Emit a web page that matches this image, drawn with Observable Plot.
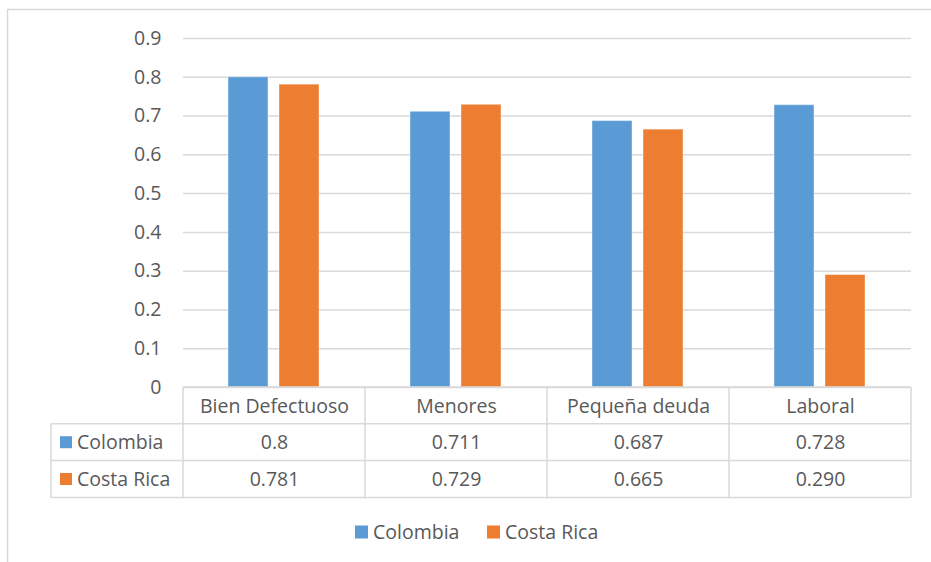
<!DOCTYPE html>
<html>
<head>
<meta charset="utf-8">
<script src="https://cdn.jsdelivr.net/npm/d3@7"></script>
<script src="https://cdn.jsdelivr.net/npm/@observablehq/plot@0.6"></script>
<style>
  html, body { margin: 0; padding: 0; background: #fff; }
  #chart { width: 931px; height: 562px; }
</style>
</head>
<body>
<div id="chart"></div>
<script>
const categories = ["Bien Defectuoso", "Menores", "Pequeña deuda", "Laboral"];
const series = ["Colombia", "Costa Rica"];
const colombia = [0.8, 0.711, 0.687, 0.728];
const costaRica = [0.781, 0.729, 0.665, 0.290];
const colombiaLabels = ["0.8", "0.711", "0.687", "0.728"];
const costaRicaLabels = ["0.781", "0.729", "0.665", "0.290"];
const yTicks = [0, 0.1, 0.2, 0.3, 0.4, 0.5, 0.6, 0.7, 0.8, 0.9];
const colors = ["#5B9BD5", "#ED7D31"];

const data = categories.flatMap((c, i) => [
  {cat: c, series: series[0], value: colombia[i]},
  {cat: c, series: series[1], value: costaRica[i]}
]);
const tableRows = categories.map((c, i) => ({cat: c, a: colombiaLabels[i], b: costaRicaLabels[i]}));

const FONT = "'Open Sans', sans-serif";
const TXT = "#595959";
const GRID = "#d9d9d9";
const FS = 19.5;

const plot = Plot.plot({
  width: 931,
  height: 562,
  marginLeft: 182,
  marginRight: 19,
  marginTop: 38,
  marginBottom: 175,
  style: {fontFamily: FONT, fontSize: FS + "px", color: TXT, background: "#fff"},
  fx: {domain: categories, padding: 0, axis: null},
  x: {domain: series, paddingInner: 0.21, paddingOuter: 0.86, axis: null},
  y: {domain: [0, 0.9]},
  color: {domain: series, range: colors},
  marks: [
    Plot.gridY(yTicks, {stroke: GRID, strokeOpacity: 1, strokeWidth: 1.5}),
    Plot.axisY(yTicks, {tickSize: 0, tickPadding: 22, label: null, fontSize: FS,
      tickFormat: d => d === 0 ? "0" : d.toFixed(1)}),
    Plot.barY(data, {fx: "cat", x: "series", y: "value", fill: "series", stroke: "#fff", strokeOpacity: 0.4, strokeWidth: 1}),
    Plot.text(tableRows, {fx: "cat", frameAnchor: "bottom", lineAnchor: "middle", dy: 19, text: "cat", fill: TXT, fontSize: FS}),
    Plot.text(tableRows, {fx: "cat", frameAnchor: "bottom", lineAnchor: "middle", dy: 55, text: "a", fill: TXT, fontSize: FS}),
    Plot.text(tableRows, {fx: "cat", frameAnchor: "bottom", lineAnchor: "middle", dy: 92, text: "b", fill: TXT, fontSize: FS})
  ]
});

document.getElementById("chart").appendChild(plot);

// Table borders, row labels, legend and outer frame
const svg = d3.select(plot);
const fx = plot.scale("fx");
const y = plot.scale("y");
const y0 = y.apply(0);
const bw = fx.bandwidth;
const xs = categories.map(c => fx.apply(c));
const xEnd = xs[xs.length - 1] + bw;
const rowH = 36.8;
const tableLeft = 51;
const g = svg.append("g").attr("stroke", GRID).attr("stroke-width", 1.5).attr("fill", "none");
g.append("line").attr("x1", xs[0]).attr("x2", xEnd).attr("y1", y0).attr("y2", y0);
for (let r = 1; r <= 3; r++) {
  g.append("line").attr("x1", tableLeft).attr("x2", xEnd).attr("y1", y0 + r * rowH).attr("y2", y0 + r * rowH);
}
g.append("line").attr("x1", tableLeft).attr("x2", tableLeft).attr("y1", y0 + rowH).attr("y2", y0 + 3 * rowH);
[...xs, xEnd].forEach(x => {
  g.append("line").attr("x1", x).attr("x2", x).attr("y1", y0).attr("y2", y0 + 3 * rowH);
});

// Row labels
series.forEach((s, i) => {
  const cy = y0 + rowH * (i + 1.5);
  svg.append("rect").attr("x", 60).attr("y", cy - 6).attr("width", 12).attr("height", 12).attr("fill", colors[i]);
  svg.append("text").attr("x", 77).attr("y", cy).attr("dy", "0.35em").attr("text-anchor", "start")
    .attr("fill", TXT).attr("font-family", FONT).attr("font-size", FS).text(s);
});

// Legend
const legY = 532;
const legX = [355, 487];
series.forEach((s, i) => {
  svg.append("rect").attr("x", legX[i]).attr("y", legY - 6.5).attr("width", 13).attr("height", 13).attr("fill", colors[i]);
  svg.append("text").attr("x", legX[i] + 18).attr("y", legY).attr("dy", "0.35em").attr("text-anchor", "start")
    .attr("fill", TXT).attr("font-family", FONT).attr("font-size", FS).text(s);
});

// Outer frame
const fr = svg.append("g").attr("stroke", GRID).attr("stroke-width", 1.5);
fr.append("line").attr("x1", 7).attr("x2", 931).attr("y1", 9.5).attr("y2", 9.5);
fr.append("line").attr("x1", 7.5).attr("x2", 7.5).attr("y1", 9).attr("y2", 562);
</script>
</body>
</html>
